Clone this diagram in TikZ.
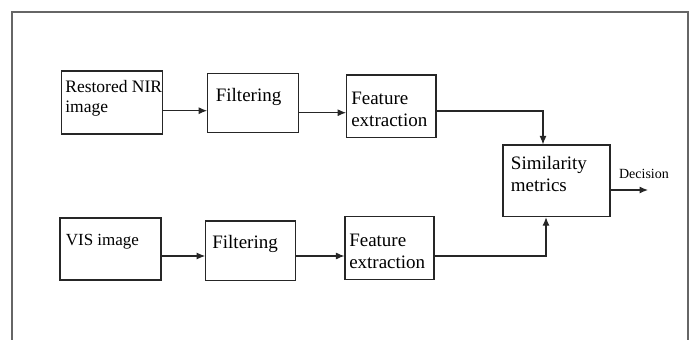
\documentclass[tikz,border=0pt]{standalone}
\usepackage{fontspec}
\setmainfont{Liberation Serif}
\usetikzlibrary{arrows.meta,positioning}

\tikzset{
  blk/.style={draw=black!85, line width=1.1pt},
  txt/.style={anchor=north west, align=left, inner sep=0pt, font=\fontsize{19}{22}\selectfont},
  arr/.style={-{Latex[length=8.5pt,width=7pt]}, line width=1.1pt, draw=black!85},
}

\begin{document}
\begin{tikzpicture}[x=1pt, y=-1pt]
  \useasboundingbox (0,0) rectangle (694,340);
  % outer frame, open at the bottom
  \draw[black!60, line width=1.6pt] (12,340) -- (12,11.7) -- (688,11.7) -- (688,340);

  % upper branch
  \node[blk, minimum width=101pt, minimum height=63pt,
        label={[txt, xshift=4pt, yshift=-10pt, font=\fontsize{17.5}{20}\selectfont]north west:Restored~NIR\\image}] (nir) at (112.2,102.5) {};
  \node[blk, minimum width=90.6pt, minimum height=59pt,
        label={[txt, xshift=8.5pt, yshift=-15.4pt]north west:Filtering}] (filtA) at (253,102.8) {};
  \node[blk, minimum width=89.3pt, minimum height=62.7pt,
        label={[txt, xshift=5pt, yshift=-17pt]north west:Feature\\extraction}] (featA) at (391.3,106.3) {};

  % lower branch
  \node[blk, minimum width=101pt, minimum height=62pt,
        label={[txt, xshift=6.2pt, yshift=-17pt, font=\fontsize{17}{20}\selectfont]north west:VIS image}] (vis) at (110.5,249) {};
  \node[blk, minimum width=90pt, minimum height=59.7pt,
        label={[txt, xshift=7pt, yshift=-15pt]north west:Filtering}] (filtB) at (250.7,250.8) {};
  \node[blk, minimum width=89pt, minimum height=62.6pt,
        label={[txt, xshift=4.6pt, yshift=-18pt]north west:Feature\\extraction}] (featB) at (389.5,248) {};

  % matching block
  \node[blk, minimum width=107pt, minimum height=71.7pt,
        label={[txt, xshift=8.3pt, yshift=-12pt]north west:Similarity\\metrics}] (sim) at (556.5,180.8) {};
  \coordinate (out) at (648,190);

  \draw[arr] ([yshift=-8.2pt]nir.east) -- ([yshift=-8.2pt]nir.east -| filtA.west);
  \draw[arr] ([yshift=-9.9pt]filtA.east) -- ([yshift=-9.9pt]filtA.east -| featA.west);
  \draw[arr] ([yshift=-4.7pt]featA.east) -| ([xshift=-13.5pt]sim.north);

  \draw[arr] ([yshift=-7pt]vis.east) -- ([yshift=-7pt]vis.east -| filtB.west);
  \draw[arr] ([yshift=-5.2pt]filtB.east) -- ([yshift=-5.2pt]filtB.east -| featB.west);
  \draw[arr] ([yshift=-8pt]featB.east) -| ([xshift=-10.5pt]sim.south);

  \draw[arr] (sim.east |- out) -- (out)
    node[at start, anchor=base west, xshift=8pt, yshift=12pt, inner sep=0pt, font=\fontsize{14}{16}\selectfont] (dec) {Decision};
\end{tikzpicture}
\end{document}
